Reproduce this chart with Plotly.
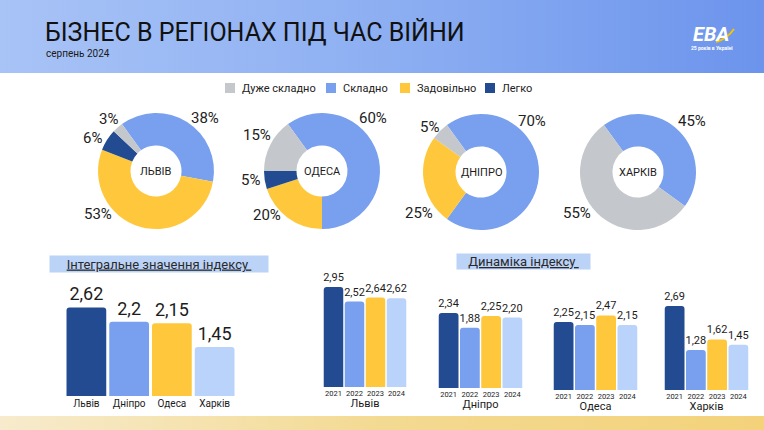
import base64
import plotly.graph_objects as go

# ── canvas ─────────────────────────────────────────────
W, H = 764, 430
FONT = "Roboto, 'Noto Sans', sans-serif"
TXT = "#1c1c1c"

C_GRAY = "#c4c8cc"
C_BLUE = "#79a0ee"
C_YELLOW = "#ffc83c"
C_DARK = "#234b91"
C_LIGHT = "#b9d3fb"

# ── data ───────────────────────────────────────────────
title_text = "БІЗНЕС В РЕГІОНАХ ПІД ЧАС ВІЙНИ"
subtitle_text = "серпень 2024"

legend_labels = ["Дуже складно", "Складно", "Задовільно", "Легко"]
legend_colors = [C_GRAY, C_BLUE, C_YELLOW, C_DARK]

# pie slice order (clockwise from the top-left)
pie_labels = ["Складно", "Задовільно", "Легко", "Дуже складно"]
pie_colors = [C_BLUE, C_YELLOW, C_DARK, C_GRAY]
pie_regions = ["ЛЬВІВ", "ОДЕСА", "ДНІПРО", "ХАРКІВ"]
share_lviv = [38, 53, 6, 3]
share_odesa = [60, 20, 5, 15]
share_dnipro = [70, 25, 0, 5]
share_kharkiv = [45, 0, 0, 55]

index_regions = ["Львів", "Дніпро", "Одеса", "Харків"]
index_values = [2.62, 2.2, 2.15, 1.45]
index_colors = [C_DARK, C_BLUE, C_YELLOW, C_LIGHT]

years = ["2021", "2022", "2023", "2024"]
year_colors = [C_DARK, C_BLUE, C_YELLOW, C_LIGHT]
dyn_regions = ["Львів", "Дніпро", "Одеса", "Харків"]
dyn_lviv = [2.95, 2.52, 2.64, 2.62]
dyn_dnipro = [2.34, 1.88, 2.25, 2.20]
dyn_odesa = [2.25, 2.15, 2.47, 2.15]
dyn_kharkiv = [2.69, 1.28, 1.62, 1.45]


def px(x):
    return x / W


def py(y):
    return 1 - y / H


def gradient_svg(w, h, c0, c1, c2):
    svg = (
        f"<svg xmlns='http://www.w3.org/2000/svg' width='{w}' height='{h}'>"
        "<defs><linearGradient id='g' x1='0' x2='1' y1='0' y2='0'>"
        f"<stop offset='0' stop-color='{c0}'/>"
        f"<stop offset='0.5' stop-color='{c1}'/>"
        f"<stop offset='1' stop-color='{c2}'/>"
        "</linearGradient></defs>"
        f"<rect width='{w}' height='{h}' fill='url(#g)'/></svg>"
    )
    return "data:image/svg+xml;base64," + base64.b64encode(svg.encode()).decode()


fig = go.Figure()

# ── donuts ─────────────────────────────────────────────
pie_shares = [share_lviv, share_odesa, share_dnipro, share_kharkiv]
pie_centers = [(156, 171), (322, 171), (481, 172), (638, 172)]
R = 58
# label spots (pixel) for each slice, same order as pie_labels
pie_label_pos = [
    [(205, 118), (98, 214), (92, 138), (108, 119)],
    [(373, 118), (267, 215), (250, 180), (257, 135)],
    [(532, 121), (419, 213), None, (430, 127)],
    [(692, 121), None, None, (577, 213)],
]

annotations = []
for region, shares, (cx, cy), spots in zip(pie_regions, pie_shares, pie_centers, pie_label_pos):
    fig.add_trace(go.Pie(
        values=shares, labels=pie_labels,
        marker=dict(colors=pie_colors, line=dict(width=0)),
        hole=0.44, sort=False, direction="clockwise", rotation=-36,
        textinfo="none", showlegend=False, name=region,
        domain=dict(x=[px(cx - R), px(cx + R)], y=[py(cy + R), py(cy - R)]),
    ))
    annotations.append(dict(
        text=region, x=px(cx), y=py(cy),
        font=dict(family=FONT, size=11, color=TXT),
    ))
    for v, spot in zip(shares, spots):
        if v and spot:
            annotations.append(dict(
                text=f"{v}%", x=px(spot[0]), y=py(spot[1]),
                font=dict(family=FONT, size=15, color="#222222"),
            ))

# ── integral index bars ────────────────────────────────
fig.add_trace(go.Bar(
    x=index_regions, y=index_values,
    marker=dict(color=index_colors, line=dict(width=0)),
    text=[f"{v:g}".replace(".", ",") for v in index_values],
    textposition="outside", cliponaxis=False, constraintext="none",
    textfont=dict(family=FONT, size=18, color=TXT),
    showlegend=False, hoverinfo="x+y",
    xaxis="x", yaxis="y",
))

# ── index dynamics bars ────────────────────────────────
dyn_values = [dyn_lviv, dyn_dnipro, dyn_odesa, dyn_kharkiv]
# (left px, right px, baseline px, px per unit)
dyn_geom = [(323, 407, 387, 33.9), (438, 523, 388, 32.0), (553, 638, 390, 30.2), (664, 749, 390, 31.2)]
for k, vals in enumerate(dyn_values):
    fig.add_trace(go.Bar(
        x=years, y=vals,
        marker=dict(color=year_colors, line=dict(width=0)),
        text=[f"{v:.2f}".replace(".", ",") for v in vals],
        textposition="outside", cliponaxis=False, constraintext="none",
        textfont=dict(family=FONT, size=11, color=TXT),
        showlegend=False, hoverinfo="x+y",
        xaxis=f"x{k + 2}", yaxis=f"y{k + 2}",
    ))

YMAX = 3.2
axes = {}
axes["xaxis"] = dict(
    domain=[px(65), px(236)], anchor="y", showgrid=False, showline=False,
    zeroline=False, ticks="", tickfont=dict(family=FONT, size=10, color=TXT),
)
axes["yaxis"] = dict(
    domain=[py(396), py(396 - YMAX * 33.8)], range=[0, YMAX], visible=False, anchor="x",
)
for k, (x0, x1, base, scale) in enumerate(dyn_geom):
    n = k + 2
    axes[f"xaxis{n}"] = dict(
        domain=[px(x0), px(x1)], anchor=f"y{n}", showgrid=False, showline=False,
        zeroline=False, ticks="", tickfont=dict(family=FONT, size=7.5, color=TXT),
        title=dict(text=dyn_regions[k], font=dict(family=FONT, size=11, color=TXT), standoff=2),
    )
    axes[f"yaxis{n}"] = dict(
        domain=[py(base), py(base - YMAX * scale)], range=[0, YMAX], visible=False, anchor=f"x{n}",
    )

# ── header / text ──────────────────────────────────────
annotations += [
    dict(text=title_text, x=px(43), y=py(32), xanchor="left",
         font=dict(family=FONT, size=25, color="#111111")),
    dict(text=subtitle_text, x=px(44), y=py(54), xanchor="left",
         font=dict(family=FONT, size=10, color="#1a1a1a")),
    dict(text="<b><i>EBA</i></b>", x=px(711), y=py(34),
         font=dict(family=FONT, size=20, color="#ffffff")),
    dict(text="<b>25 років в Україні</b>", x=px(712), y=py(48),
         font=dict(family=FONT, size=5, color="#ffffff")),
    dict(text="<u>Інтегральне значення індексу </u>", x=px(159), y=py(264), width=218, height=16,
         bgcolor="#bcd3f8", borderpad=0, font=dict(family=FONT, size=13, color="#2a2a2a")),
    dict(text="<u>Динаміка індексу </u>", x=px(523), y=py(261.5), width=133, height=15,
         bgcolor="#bcd3f8", borderpad=0, font=dict(family=FONT, size=13, color="#2a2a2a")),
]

# manual legend
shapes = []
legend_x = [225, 326, 400, 485]
for lab, col, lx in zip(legend_labels, legend_colors, legend_x):
    shapes.append(dict(type="rect", xref="paper", yref="paper",
                       x0=px(lx), x1=px(lx + 10), y0=py(93), y1=py(83),
                       fillcolor=col, line=dict(width=0)))
    annotations.append(dict(text=lab, x=px(lx + 15), y=py(88), xanchor="left",
                            font=dict(family=FONT, size=11, color="#222222")))

# yellow swoosh on the logo
shapes.append(dict(type="path", xref="paper", yref="paper",
                   path=f"M {px(716)} {py(42)} Q {px(727)} {py(39)} {px(734)} {py(29)}",
                   line=dict(color="#f5c400", width=2)))

for a in annotations:
    a.setdefault("xref", "paper")
    a.setdefault("yref", "paper")
    a.setdefault("showarrow", False)
    a.setdefault("xanchor", "center")
    a.setdefault("yanchor", "middle")

fig.update_layout(
    width=W, height=H,
    margin=dict(l=0, r=0, t=0, b=0),
    paper_bgcolor="#ffffff", plot_bgcolor="rgba(0,0,0,0)",
    font=dict(family=FONT, color=TXT),
    bargap=0.07, barcornerradius=3,
    annotations=annotations, shapes=shapes,
    images=[
        dict(source=gradient_svg(W, 73, "#a8c3f6", "#8daff2", "#6c94ec"),
             xref="paper", yref="paper", x=0, y=1, sizex=1, sizey=73 / H,
             xanchor="left", yanchor="top", sizing="stretch", layer="below"),
        dict(source=gradient_svg(W, 14, "#f7ebcd", "#f3da92", "#f3d27a"),
             xref="paper", yref="paper", x=0, y=14 / H, sizex=1, sizey=14 / H,
             xanchor="left", yanchor="top", sizing="stretch", layer="below"),
    ],
    **axes,
)

fig.write_html(
    "out.html",
    config={"displayModeBar": False},
    post_script="document.body.style.margin='0';document.body.style.overflow='hidden';",
)
